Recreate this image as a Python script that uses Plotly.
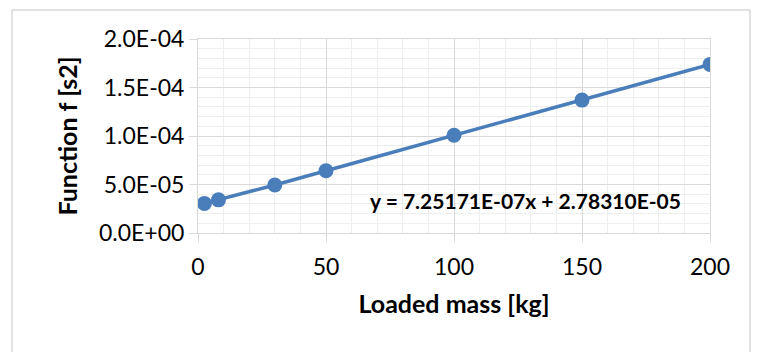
import plotly.graph_objects as go

mass = [2.5, 8, 30, 50, 100, 150, 200]
func_f = [3.05e-5, 3.42e-5, 4.95e-5, 6.42e-5, 1.008e-4, 1.37e-4, 1.738e-4]
y_ticks = [0, 5e-5, 1e-4, 1.5e-4, 2e-4]
y_labels = ["0.0E+00", "5.0E-05", "1.0E-04", "1.5E-04", "2.0E-04"]
x_ticks = [0, 50, 100, 150, 200]
equation = "y = 7.25171E-07x + 2.78310E-05"

W, H = 759, 352
L, R, T, B = 198, 49, 39, 119
pw, ph = W - L - R, H - T - B

blue = "#4A7EBB"
fig = go.Figure()
fig.add_trace(go.Scatter(x=mass, y=func_f, mode="lines+markers",
                         line=dict(color=blue, width=3.5),
                         marker=dict(color=blue, size=15), showlegend=False))

fig.add_annotation(x=128, y=3.4e-5, xref="x", yref="y", text="<b>" + equation + "</b>",
                   showarrow=False, font=dict(family="Lato", size=21, color="#000"),
                   xanchor="center", yanchor="middle")

fig.add_shape(type="rect", xref="paper", yref="paper",
              x0=(12 - L) / pw, x1=(750 - L) / pw,
              y0=-(H + 10 - T - ph) / ph, y1=(ph + T - 10) / ph,
              line=dict(color="#D9D9D9", width=1.5), layer="below")

axis_font = dict(family="Lato", size=23, color="#000")
fig.update_layout(
    width=W, height=H, margin=dict(l=L, r=R, t=T, b=B),
    paper_bgcolor="white", plot_bgcolor="white",
    xaxis=dict(range=[0, 200], tickvals=x_ticks, ticks="outside", ticklen=8,
               tickcolor="#D9D9D9", showline=True, linecolor="#D9D9D9", mirror=True,
               showgrid=True, gridcolor="#D9D9D9", gridwidth=1, zeroline=False,
               tickfont=axis_font, ticklabelstandoff=5,
               minor=dict(dtick=10, showgrid=True, gridcolor="#EEEEEE", ticks=""),
               title=dict(text="<b>Loaded mass [kg]</b>",
                          font=dict(family="Lato", size=25, color="#000"), standoff=16)),
    yaxis=dict(range=[0, 2e-4], tickvals=y_ticks, ticktext=y_labels, ticks="outside",
               ticklen=8, tickcolor="#D9D9D9", showline=True, linecolor="#D9D9D9",
               mirror=True, showgrid=True, gridcolor="#D9D9D9", zeroline=False,
               tickfont=axis_font,
               minor=dict(dtick=1e-5, showgrid=True, gridcolor="#EEEEEE", ticks=""),
               title=dict(text="<b>Function f [s2]</b>",
                          font=dict(family="Lato", size=25, color="#000"), standoff=14)),
)
fig.write_html("out.html")
